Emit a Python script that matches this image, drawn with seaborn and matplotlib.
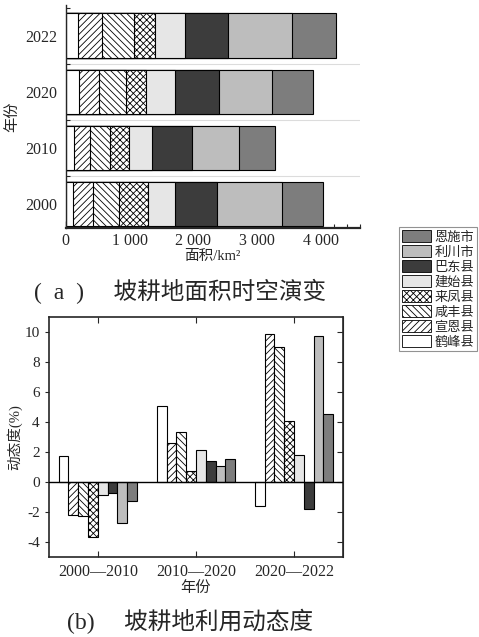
import numpy as np
import pandas as pd
import seaborn as sns
import matplotlib.pyplot as plt
from matplotlib.patches import Patch
from matplotlib.ticker import MultipleLocator, FixedLocator

# 县市 (从左到右的堆叠顺序)
counties = ['鹤峰县', '宣恩县', '咸丰县', '来凤县', '建始县', '巴东县', '利川市', '恩施市']
years = ['2022', '2020', '2010', '2000']

# 坡耕地面积 km2
area_2022 = [198, 374, 500, 332, 469, 665, 999, 692]
area_2020 = [208, 312, 432, 301, 453, 687, 832, 640]
area_2010 = [130, 255, 312, 291, 370, 613, 739, 567]
area_2000 = [109, 318, 405, 463, 411, 661, 1019, 645]

# 动态度 %
periods = ['2000—2010', '2010—2020', '2020—2022']
dyn_2000_2010 = [1.7, -2.2, -2.3, -3.7, -0.9, -0.75, -2.75, -1.3]
dyn_2010_2020 = [5.05, 2.6, 3.35, 0.72, 2.1, 1.4, 1.08, 1.53]
dyn_2020_2022 = [-1.6, 9.88, 8.98, 4.08, 1.8, -1.8, 9.7, 4.56]

colors = ['white', 'white', 'white', 'white', '#e6e6e6', '#3c3c3c', '#bdbdbd', '#7d7d7d']
hatches = ['', '/////', '\\\\\\\\\\', 'xxxxx', '', '', '', '']

sns.set_style('ticks')
plt.rcParams['font.family'] = ['Liberation Serif', 'Noto Sans CJK SC']
plt.rcParams['hatch.linewidth'] = 0.6
plt.rcParams['axes.unicode_minus'] = False

fig = plt.figure(figsize=(4.79, 6.37), dpi=100)

# ---------------- (a) ----------------
ax1 = fig.add_axes([0.137, 0.642, 0.614, 0.350])
area = pd.DataFrame({'year': np.repeat(years, len(counties)),
                     'county': counties * len(years),
                     'area': area_2022 + area_2020 + area_2010 + area_2000})
area['cum'] = area.groupby('year')['area'].cumsum()

# draw from the right-most segment back to the left so each one covers the previous
for i in reversed(range(len(counties))):
    sub = area[area['county'] == counties[i]]
    sns.barplot(data=sub, x='cum', y='year', order=years, orient='h',
                color=colors[i], saturation=1, hatch=hatches[i],
                edgecolor='black', linewidth=0.8, width=0.8,
                errorbar=None, ax=ax1)

ax1.set_xlim(0, 4600)
ax1.set_ylim(3.43, -0.55)
ax1.hlines([0.5, 1.5, 2.5], 0, 4600, color='#dcdcdc', lw=0.8, zorder=0)
ax1.xaxis.set_major_locator(FixedLocator([0, 1000, 2000, 3000, 4000]))
ax1.set_xticklabels(['0', '1 000', '2 000', '3 000', '4 000'])
ax1.xaxis.set_minor_locator(MultipleLocator(200))
ax1.yaxis.set_minor_locator(FixedLocator([-0.5, 0.5, 1.5, 2.5]))
ax1.tick_params(axis='x', which='major', direction='in', length=5, width=1, labelsize=11.5)
ax1.tick_params(axis='x', which='minor', direction='in', length=3, width=0.8)
ax1.tick_params(axis='y', which='major', length=0, labelsize=11.5, pad=6)
ax1.tick_params(axis='y', which='minor', direction='in', length=3, width=0.8)
ax1.spines['top'].set_visible(False)
ax1.spines['right'].set_visible(False)
ax1.spines['bottom'].set_linewidth(1.6)
ax1.spines['left'].set_linewidth(1.0)
ax1.set_xlabel('面积/km²', fontsize=10.5, labelpad=1)
ax1.set_ylabel('年份', fontsize=11, labelpad=4)

fig.text(0.376, 0.542, '(\u2002a\u2002)\u2003 坡耕地面积时空演变', ha='center', va='center', fontsize=17)

# ---------------- (b) ----------------
ax2 = fig.add_axes([0.102, 0.1256, 0.614, 0.377])
dyn = pd.DataFrame({'period': np.repeat(periods, len(counties)),
                    'county': counties * len(periods),
                    'value': dyn_2000_2010 + dyn_2010_2020 + dyn_2020_2022})
sns.barplot(data=dyn, x='period', y='value', hue='county', hue_order=counties,
            order=periods, palette=colors, saturation=1, edgecolor='black',
            linewidth=0.8, width=0.8, errorbar=None, legend=False, ax=ax2)
for container, h in zip(ax2.containers, hatches):
    for bar in container:
        bar.set_hatch(h)

ax2.axhline(0, color='black', lw=1.0, zorder=3)
ax2.set_xlim(-0.5, 2.5)
ax2.set_ylim(-5, 11)
ax2.set_yticks(np.arange(-4, 11, 2))
ax2.tick_params(axis='x', direction='in', top=True, length=4, labelsize=11.5, pad=5)
ax2.tick_params(axis='y', direction='out', length=3, labelsize=11)
sec = ax2.secondary_yaxis('right')
sec.set_yticks(np.arange(-4, 11, 2))
sec.tick_params(direction='in', length=4, labelright=False)
for s in ax2.spines.values():
    s.set_linewidth(1.2)
ax2.set_xlabel('年份', fontsize=11, labelpad=1)
ax2.set_ylabel('动态度(%)', fontsize=10.5, labelpad=2)

fig.text(0.397, 0.024, '(b)\u2003 坡耕地利用动态度', ha='center', va='center', fontsize=17)

# legend (县市 from top: 恩施市 ... 鹤峰县)
handles = [Patch(facecolor=colors[i], hatch=hatches[i], edgecolor='black', linewidth=0.6,
                 label=counties[i]) for i in reversed(range(len(counties)))]
leg = fig.legend(handles=handles, loc='upper left', bbox_to_anchor=(0.833, 0.643),
                 frameon=True, fancybox=False, edgecolor='#777777', fontsize=9.5,
                 handlelength=2.2, handleheight=1.0, labelspacing=0.12,
                 borderpad=0.2, handletextpad=0.3, borderaxespad=0)
leg.get_frame().set_linewidth(0.8)

fig.savefig('out.png', dpi=100)
